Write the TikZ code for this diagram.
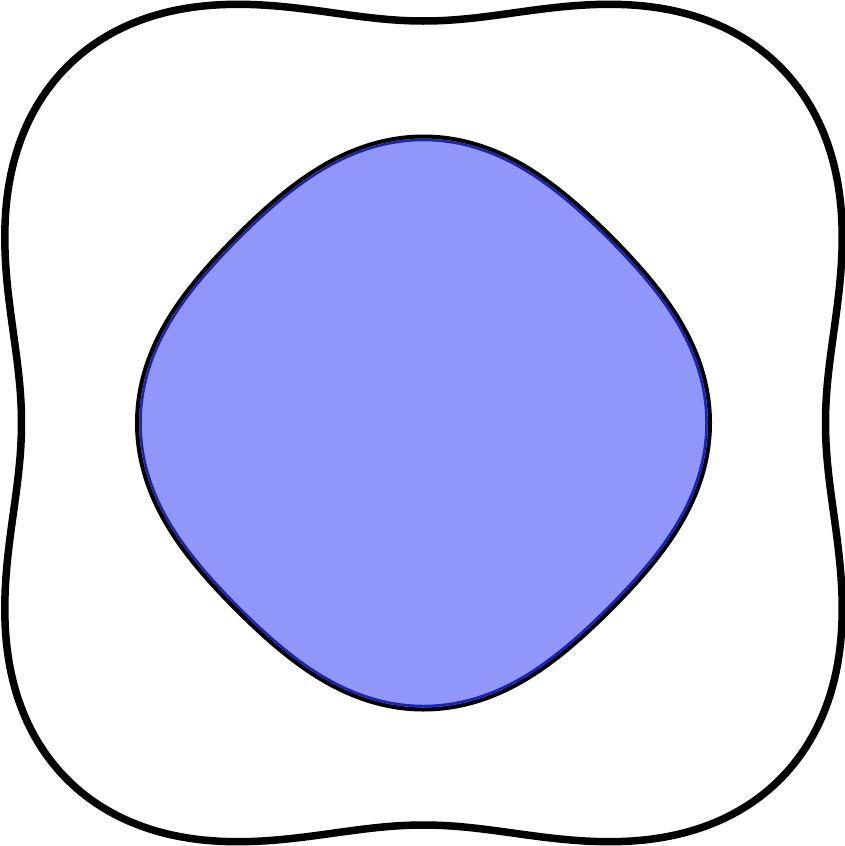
\documentclass[tikz,border=0pt]{standalone}
\definecolor{fillblue}{RGB}{145,151,250}
\definecolor{edgeblue}{RGB}{25,35,175}
\begin{document}
\begin{tikzpicture}[x=1pt,y=-1pt,
  outercurve/.style={draw=black,line width=7.5pt,line join=round},
  innerfill/.style={fill=fillblue,draw=none},
  innerblack/.style={draw=black,line width=4pt,line join=round},
  innerblue/.style={draw=edgeblue,line width=2.5pt,line join=round}]
\useasboundingbox (0,0) rectangle (844,846);
% outer wavy rounded square
\draw[outercurve] plot[domain=0:360,samples=361,smooth cycle,variable=\t]
  ({423.5+(453-51*cos(4*\t))*cos(\t)},{423+(453-51*cos(4*\t))*sin(\t)});
% inner rounded diamond
\fill[innerfill] plot[domain=0:360,samples=361,smooth cycle,variable=\t]
  ({423.5+(275+11*cos(4*\t))*cos(\t)},{423+(275+11*cos(4*\t))*sin(\t)});
\draw[innerblue] plot[domain=0:360,samples=361,smooth cycle,variable=\t]
  ({423.5+(272+11*cos(4*\t))*cos(\t)},{423+(272+11*cos(4*\t))*sin(\t)});
\draw[innerblack] plot[domain=0:360,samples=361,smooth cycle,variable=\t]
  ({423.5+(275.5+11*cos(4*\t))*cos(\t)},{423+(275.5+11*cos(4*\t))*sin(\t)});
\end{tikzpicture}
\end{document}
